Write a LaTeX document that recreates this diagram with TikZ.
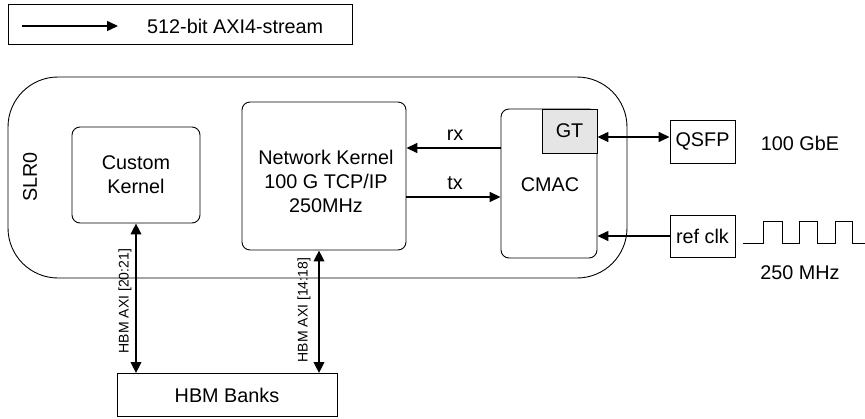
\documentclass[tikz,border=0pt]{standalone}
\usepackage{fontspec}
\setmainfont{Liberation Sans}
\usetikzlibrary{arrows.meta}
\begin{document}
\begin{tikzpicture}[x=1pt,y=-1pt,
  every node/.style={font=\fontsize{19.8}{24}\selectfont, inner sep=0pt},
  blockbox/.style={draw, line width=0.9pt, rounded corners=8pt},
  plainbox/.style={draw, line width=0.9pt},
  tip/.style={-{Triangle[length=11pt,width=10pt]}},
  flow/.style={line width=1.5pt, tip},
  biflow/.style={line width=1.5pt, {Triangle[length=11pt,width=10pt]}-{Triangle[length=11pt,width=10pt]}},
  memflow/.style={line width=2.2pt, {Triangle[length=11pt,width=10.5pt]}-{Triangle[length=11pt,width=10.5pt]}},
  smalllabel/.style={font=\fontsize{14}{16}\selectfont, rotate=90}
]
\useasboundingbox (0,0) rectangle (865,418);

% legend
\node[plainbox, minimum width=344pt, minimum height=40pt] (legend) at (180,24.5) {};
\coordinate (legA) at (22,26);
\coordinate (legB) at (118,26);
\draw[flow] (legA) -- (legB);
\node[anchor=west] (legtext) at (147,26) {512-bit AXI4-stream};

% super logic region
\draw[line width=0.9pt, rounded corners=50pt] (8,77) rectangle (627,278);
\node[rotate=90] (slr) at (30,177) {SLR0};

% kernels
\node[blockbox, minimum width=128pt, minimum height=96pt, align=center] (ck) at (136,175) {Custom\\Kernel};
\node[blockbox, minimum width=164pt, minimum height=148pt] (nk) at (324,176) {};
\node[align=center] (nktext) at (326,181) {Network Kernel\\100 G TCP/IP\\250MHz};

% CMAC with GT
\node[blockbox, minimum width=96pt, minimum height=149pt] (cmac) at (549,183.5) {};
\node (cmactext) at (550,185) {CMAC};
\node[plainbox, fill=black!10, minimum width=55pt, minimum height=44pt] (gt) at (569.5,131) {GT};

% external
\node[plainbox, minimum width=65pt, minimum height=43pt] (qsfp) at (702.5,141.5) {QSFP};
\node[plainbox, minimum width=65pt, minimum height=42pt] (refclk) at (702.5,236) {ref clk};
\node (gbe) at (800,143) {100 GbE};
\node (mhz) at (800,273) {250 MHz};

% clock waveform
\draw[line width=1pt] (743,243) -- (763,243) -- (763,221) -- (782,221) -- (782,243)
  -- (799,243) -- (799,221) -- (817,221) -- (817,243) -- (835,243) -- (835,221)
  -- (852,221) -- (852,243) -- (865,243);

% HBM
\node[plainbox, minimum width=220pt, minimum height=43pt] (hbm) at (227,395) {HBM Banks};

% connections
\draw[flow] (cmac.west |- 0,148) -- (nk.east |- 0,148);
\node (rx) at (455,135) {rx};
\draw[flow] (nk.east |- 0,197) -- (cmac.west |- 0,197);
\node (tx) at (455,183) {tx};
\draw[biflow] (gt.east |- 0,137) -- (qsfp.west |- 0,137);
\draw[flow] (refclk.west) -- (cmac.east |- refclk.west);

\draw[memflow] (ck.south) -- (hbm.north -| ck.south);
\node[smalllabel] (axiA) at (125,301) {HBM AXI [20:21]};
\draw[memflow] (nk.south -| 319,0) -- (hbm.north -| 319,0);
\node[smalllabel] (axiB) at (304,310) {HBM AXI [14:18]};
\end{tikzpicture}
\end{document}
